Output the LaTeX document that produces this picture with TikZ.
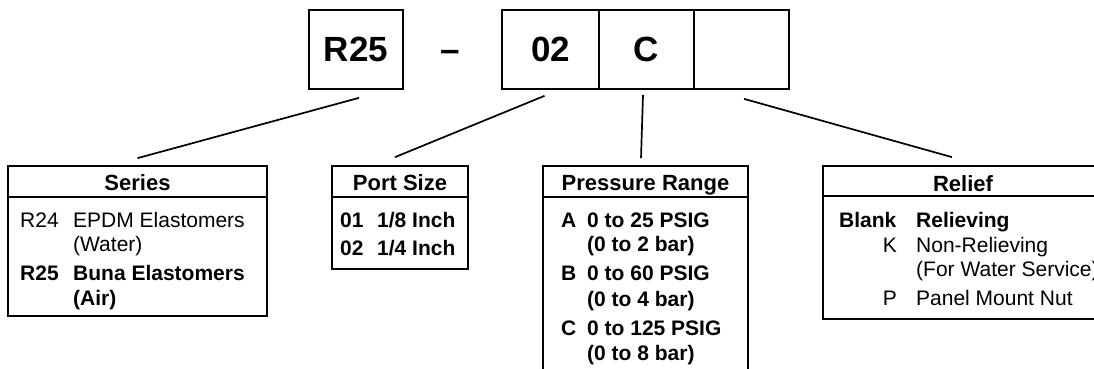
\documentclass[tikz,border=0pt]{standalone}
\usepackage{fontspec}
\setmainfont{Liberation Sans}

\tikzset{
  codebox/.style={draw, line width=1.7pt, minimum width=95pt, minimum height=79pt, inner sep=0pt, font=\fontsize{35}{40}\selectfont\bfseries},
  infobox/.style={draw, line width=1.7pt, inner sep=0pt},
  leader/.style={line width=1.7pt},
  head/.style={anchor=base, inner sep=0pt, font=\fontsize{22}{26}\selectfont\bfseries},
  entry/.style={anchor=base west, inner sep=0pt, font=\fontsize{21}{24}\selectfont},
  bentry/.style={entry, font=\fontsize{21}{24}\selectfont\bfseries},
  kentry/.style={anchor=base east, inner sep=0pt, font=\fontsize{21}{24}\selectfont},
}

\begin{document}
\begin{tikzpicture}[x=1pt,y=-1pt]
        \useasboundingbox (0,0) rectangle (1094,369);
        \clip (0,0) rectangle (1094,369);

        % Part number boxes
        \node[codebox, minimum width=94pt] (r25) at (356,49.5) {R25};
        \node[anchor=base, inner sep=0pt, font=\fontsize{35}{40}\selectfont\bfseries] (dash) at (450,62) {–};
        \node[codebox, minimum width=97pt] (port) at (550.5,49.5) {02};
        \node[codebox] (range) at (646.5,49.5) {C};
        \node[codebox] (relief) at (741.5,49.5) {};

        % Series box
        \node[infobox, minimum width=259pt, minimum height=150pt] (series) at (137.5,241) {};
        \draw[leader] ([yshift=-32pt]series.north west) -- ([yshift=-32pt]series.north east);
        \node[head] (serieshead) at (137.5,190) {Series};
        \node[entry] (sa) at (20,227) {R24};
        \node[entry] (sb) at (73,227) {EPDM Elastomers};
        \node[entry] (sc) at (73,251.5) {(Water)};
        \node[bentry] (sd) at (20,280.5) {R25};
        \node[bentry] (se) at (73,280.5) {Buna Elastomers};
        \node[bentry] (sf) at (73,305) {(Air)};

        % Port size box
        \node[infobox, minimum width=136pt, minimum height=103pt] (portbox) at (400,217.5) {};
        \draw[leader] ([yshift=-32pt]portbox.north west) -- ([yshift=-32pt]portbox.north east);
        \node[head] (porthead) at (400,190) {Port Size};
        \node[bentry] (pa) at (340,227) {01};
        \node[bentry] (pb) at (377,227) {1/8 Inch};
        \node[bentry] (pc) at (340,255) {02};
        \node[bentry] (pd) at (377,255) {1/4 Inch};

        % Pressure range box
        \node[infobox, minimum width=205pt, minimum height=230pt] (rangebox) at (645.5,281) {};
        \draw[leader] ([yshift=-32pt]rangebox.north west) -- ([yshift=-32pt]rangebox.north east);
        \node[head] (rangehead) at (645.5,190) {Pressure Range};
        \node[bentry] (ra) at (561,227) {A};
        \node[bentry] (rb) at (587,227) {0 to 25 PSIG};
        \node[bentry] (rc) at (587,251.5) {(0 to 2 bar)};
        \node[bentry] (rd) at (561,280.5) {B};
        \node[bentry] (re) at (587,280.5) {0 to 60 PSIG};
        \node[bentry] (rf) at (587,306) {(0 to 4 bar)};
        \node[bentry] (rg) at (561,335) {C};
        \node[bentry] (rh) at (587,335) {0 to 125 PSIG};
        \node[bentry] (ri) at (587,360) {(0 to 8 bar)};

        % Relief box
        \node[infobox, minimum width=280pt, minimum height=153pt] (reliefbox) at (963,242.5) {};
        \draw[leader] ([yshift=-31pt]reliefbox.north west) -- ([yshift=-31pt]reliefbox.north east);
        \node[head] (reliefhead) at (963,191) {Relief};
        \node[bentry] (la) at (839,227) {Blank};
        \node[bentry] (lb) at (916,227) {Relieving};
        \node[kentry] (lc) at (897,252) {K};
        \node[entry] (ld) at (916,252) {Non-Relieving};
        \node[entry] (le) at (916,276.5) {(For Water Service)};
        \node[kentry] (lf) at (897,305.5) {P};
        \node[entry] (lg) at (916,305.5) {Panel Mount Nut};

        % Leader lines
        \draw[leader] ([xshift=3pt,yshift=-8pt]r25.south) -- ([yshift=7pt]series.north);
        \draw[leader] ([xshift=-6pt,yshift=-6pt]port.south) -- ([xshift=-5pt,yshift=8pt]portbox.north);
        \draw[leader] ([xshift=-3.5pt,yshift=-5pt]range.south) -- ([xshift=-4.5pt,yshift=7pt]rangebox.north);
        \draw[leader] ([xshift=2.5pt,yshift=-9pt]relief.south) -- ([xshift=-11pt,yshift=8pt]reliefbox.north);
    \end{tikzpicture}
\end{document}
